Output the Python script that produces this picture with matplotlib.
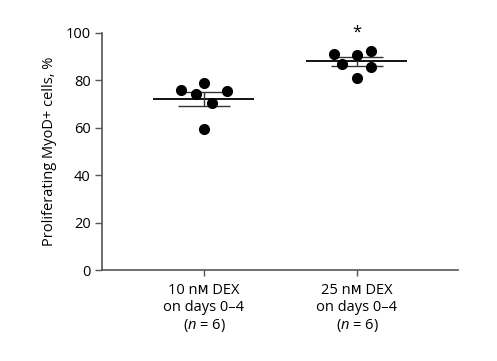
import numpy as np
import matplotlib
matplotlib.use("Agg")
import matplotlib.pyplot as plt

plt.rcParams['font.family'] = ['Open Sans', 'DejaVu Sans']
plt.rcParams['mathtext.fontset'] = 'custom'
plt.rcParams['mathtext.rm'] = 'Open Sans'
plt.rcParams['mathtext.it'] = 'Open Sans:italic'

# data
groups = ["10 nᴍ DEX\non days 0–4\n($\\it{n}$ = 6)",
          "25 nᴍ DEX\non days 0–4\n($\\it{n}$ = 6)"]
dex10_x = [0.85, 1.0, 0.95, 1.15, 1.05, 1.0]
dex10 = [75.8, 79.0, 74.1, 75.5, 70.6, 59.5]
dex25_x = [1.85, 2.0, 2.09, 1.9, 2.09, 2.0]
dex25 = [91.0, 90.7, 92.5, 87.0, 85.5, 81.0]
means = [72.3, 88.0]
sems = [2.9, 1.75]
yticks = [0, 20, 40, 60, 80, 100]

axc = '#555555'
fig = plt.figure(figsize=(4.97, 3.61), dpi=100)
ax = fig.add_axes([0.205, 0.252, 0.7165, 0.6566])

for xs, ys in ((dex10_x, dex10), (dex25_x, dex25)):
    ax.plot(xs, ys, 'o', color='k', ms=7, zorder=3, clip_on=False)

for i, (m, s) in enumerate(zip(means, sems)):
    x = i + 1
    ax.hlines(m, x - 0.33, x + 0.33, color='k', lw=1.3, zorder=2)
    ax.hlines([m - s, m + s], x - 0.17, x + 0.17, color='#333333', lw=1.0, zorder=2)
    ax.vlines(x, m - s, m + s, color='#333333', lw=1.0, zorder=2)

ax.text(2, 100.3, '*', ha='center', va='center', fontsize=12)

ax.set_xlim(0.333, 2.66)
ax.set_ylim(0, 100)
ax.set_yticks(yticks)
ax.set_xticks([1, 2])
ax.set_xticklabels(groups, fontsize=10.5, linespacing=1.2)
ax.tick_params(axis='y', labelsize=10.5, length=5, width=1, color=axc, pad=3)
ax.tick_params(axis='x', length=4, width=1, color=axc, pad=5)
ax.set_ylabel('Proliferating MyoD+ cells, %', fontsize=10.5, labelpad=6)

for sp in ('top', 'right'):
    ax.spines[sp].set_visible(False)
for sp in ('left', 'bottom'):
    ax.spines[sp].set_color(axc)
    ax.spines[sp].set_linewidth(1.2)

fig.savefig('out.png', dpi=100)
